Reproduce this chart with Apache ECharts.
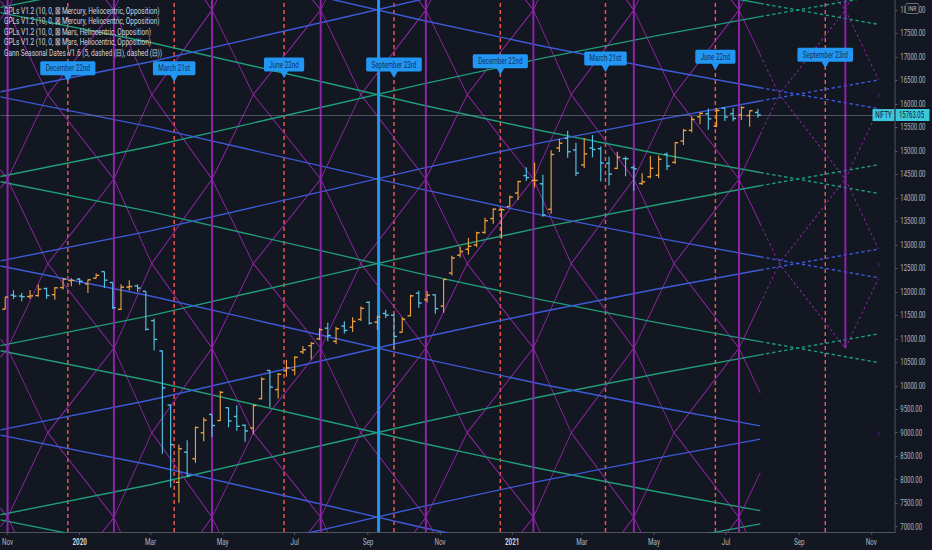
<!DOCTYPE html>
<html><head><meta charset="utf-8">
<script src="https://cdn.jsdelivr.net/npm/echarts@6/dist/echarts.min.js"></script>
<style>
html,body{margin:0;padding:0;background:#131722;overflow:hidden;width:932px;height:550px}
#wrap{width:1400px;height:550px;transform:scaleX(0.665714);transform-origin:0 0}
</style></head><body><div id="wrap"></div>
<script>
// ---------- DATA ----------
const weekDates = ['2019-10-30','2019-11-06','2019-11-13','2019-11-20','2019-11-27','2019-12-04','2019-12-11','2019-12-18','2019-12-25','2020-01-01','2020-01-08','2020-01-15','2020-01-22','2020-01-29','2020-02-05','2020-02-12','2020-02-19','2020-02-26','2020-03-04','2020-03-11','2020-03-18','2020-03-25','2020-04-01','2020-04-08','2020-04-15','2020-04-22','2020-04-29','2020-05-06','2020-05-13','2020-05-20','2020-05-27','2020-06-03','2020-06-10','2020-06-17','2020-06-24','2020-07-01','2020-07-08','2020-07-15','2020-07-22','2020-07-29','2020-08-05','2020-08-12','2020-08-19','2020-08-26','2020-09-02','2020-09-09','2020-09-16','2020-09-23','2020-09-30','2020-10-07','2020-10-14','2020-10-21','2020-10-28','2020-11-04','2020-11-11','2020-11-18','2020-11-25','2020-12-02','2020-12-09','2020-12-16','2020-12-23','2020-12-30','2021-01-06','2021-01-13','2021-01-20','2021-01-27','2021-02-03','2021-02-10','2021-02-17','2021-02-24','2021-03-03','2021-03-10','2021-03-17','2021-03-24','2021-03-31','2021-04-07','2021-04-14','2021-04-21','2021-04-28','2021-05-05','2021-05-12','2021-05-19','2021-05-26','2021-06-02','2021-06-09','2021-06-16','2021-06-23','2021-06-30','2021-07-07','2021-07-14','2021-07-21','2021-07-28'];
const opens = [11630,11930,11910,11900,11920,12070,11940,12090,12240,
12270,12170,12290,12430,12197,11627,12102,12125,12012,11387,10742,9587,7945,8585,8446,9000,9390,9260,9533,9346,9159,9100,9726,10326,9919,10318,10335,10723,10851,10999,11225,10947,11271,11248,11412,11777,11355,11540,11503,11140,11488,11973,11835,11937,11697,12399,12780,12906,13000,13265,13560,13742,13815,
14104,14474,14371,14300,13758,15064,15270,15020,14702,15064,15048,14737,14628,14837,14644,14306,14449,14481,14928,14756,15211,15437,15725,15791,15525,15915,15794,15766,15754,15819];
const highs = [11890,12034,11975,12038,12158,12090,12098,12294,12287,
12293,12260,12390,12430,12200,12160,12246,12160,12012,11433,10751,9602,8749,8838,9131,9324,9390,9889,9533,9584,9178,9598,10180,10328,10272,10553,10631,10847,10933,11225,11341,11257,11373,11460,11686,11794,11493,11618,11535,11463,11939,12025,12018,11943,12280,12770,12963,13145,13280,13579,13773,13778,14049,
14367,14653,14753,14491,15014,15257,15432,15176,15273,15336,15093,14878,14984,14879,14697,14527,14894,14900,14967,15189,15469,15733,15823,15901,15915,15915,15915,15952,15862,15890];
const lows = [11630,11850,11800,11850,11900,11850,11832,12050,12119,
12150,11975,12290,12087,11633,11614,12030,12003,11175,10750,8555,7832,7511,8055,8360,8820,8909,9250,9116,9043,8807,8968,9706,9544,9728,10194,10223,10676,10562,10973,10953,10883,11111,11144,11377,11303,11185,11442,10790,11140,11487,11661,11772,11535,11557,12350,12730,12790,12950,13238,13451,13131,13811,
13954,14357,14222,13596,13661,14977,14856,14468,14635,14862,14350,14264,14614,14459,14151,14273,14416,14416,14592,14725,15126,15400,15566,15450,15505,15635,15632,15660,15514,15705];
const closes = [11890,11908,11895,11914,12056,11922,12086,12271,12245,
12226,12256,12352,12248,11662,12098,12113,12080,11201,10989,9955,8745,8660,8084,9112,9267,9154,9860,9252,9137,9039,9580,10142,9972,10244,10383,10608,10768,10902,11194,11073,11214,11178,11371,11647,11333,11464,11505,11050,11417,11914,11762,11930,11642,12264,12720,12860,12969,13258,13514,13761,13749,14018,
14347,14433,14372,13634,14924,15163,14982,14529,14938,15031,14744,14507,14867,14834,14617,14341,14631,14823,14677,15175,15435,15670,15799,15683,15860,15722,15690,15924,15856,15763.05];

const currentPrice = 15763.05;
const lastBarDate = '2021-07-30';
const projectionEnd = '2021-11-07';
const projectionFloor = 10600;

// Mercury heliocentric GPL turning points (purple verticals) and mid crossings
const mercuryTurnDates = ['2019-08-03','2019-11-01','2020-01-30','2020-04-22','2020-07-23','2020-10-20','2021-01-19','2021-04-14','2021-07-12','2021-10-10','2022-01-07'];
const mercuryCrossDates = ['2019-09-06','2019-12-05','2020-03-02','2020-05-27','2020-08-26','2020-11-24','2021-02-20','2021-05-18','2021-08-15','2021-11-13'];
const mercuryLevels = [3600,7200,10800,14400,18000,21600];

// Mars heliocentric GPL: price shift along the lines
const marsDates = ['2019-10-26','2020-03-01','2020-08-03','2020-10-15','2021-01-25','2021-05-06','2021-07-30','2021-11-07'];
const marsShift = [0,638,1532,1957,2511,3011,3404,3851];
const greenFallStart = [3545,7145,10745,14345,17945,21545];
const greenRiseStart = [3655,7255,10855,14455,18055];
const blueFallStart = [5350,8950,12550,16150,19750];
const blueRiseStart = [5460,9060,12660,16260];

// Other vertical events
const marsEventDates = ['2020-09-10'];
const seasonDates = ['2019-12-22','2020-03-21','2020-06-22','2020-09-23','2020-12-22','2021-03-21','2021-06-22','2021-09-23'];
const seasonNames = ['December 22nd','March 21st','June 22nd','September 23rd','December 22nd','March 21st','June 22nd','September 23rd'];
const seasonLabelPrices = [16470,16470,16550,16550,16620,16680,16720,16760];
const markerPrices = [9000,12600,16200];

// Axes
const xMinDate = '2019-10-26', xMaxDate = '2021-11-21';
const yMin = 6887, yMax = 18213;
const xTickDates = ['2019-11-01','2020-01-01','2020-03-01','2020-05-01','2020-07-01','2020-09-01','2020-11-01','2021-01-01','2021-03-01','2021-05-01','2021-07-01','2021-09-01','2021-11-01'];
const yTickValues = [7000,7500,8000,8500,9000,9500,10000,10500,11000,11500,12000,12500,13000,13500,14000,14500,15000,15500,16000,16500,17000,17500,18000];
const legendLines = [
 'GPLs V1.2 (10, 0, \u22A0 Mercury, Heliocentric, Opposition)',
 'GPLs V1.2 (10, 0, \u22A0 Mercury, Heliocentric, Opposition)',
 'GPLs V1.2 (10, 0, \u22A0 Mars, Heliocentric, Opposition)',
 'GPLs V1.2 (10, 0, \u22A0 Mars, Heliocentric, Opposition)',
 'Gann Seasonal Dates V1.6 (5, dashed (\u229F), dashed (\u229F))'
];
const MONTHS = ['Jan','Feb','Mar','Apr','May','Jun','Jul','Aug','Sep','Oct','Nov','Dec'];

// ---------- HELPERS ----------
const ts = s => Date.parse(s + 'T00:00:00Z');
const FONT = 'Roboto, "Noto Sans", sans-serif';
const T_LAST = ts(lastBarDate), T_PROJ = ts(projectionEnd), X_MIN = ts(xMinDate), X_MAX = ts(xMaxDate);
function sub(pts, a, b) {
  const out = [];
  for (let i = 0; i < pts.length - 1; i++) {
    const [t0, v0] = pts[i], [t1, v1] = pts[i + 1];
    const s = Math.max(t0, a), e = Math.min(t1, b);
    if (s >= e) continue;
    const f = t => v0 + (v1 - v0) * (t - t0) / (t1 - t0);
    if (!out.length) out.push([s, f(s)]);
    out.push([e, f(e)]);
  }
  return out;
}
function valueAt(pts, t) {
  for (let i = 0; i < pts.length - 1; i++) {
    const [t0, v0] = pts[i], [t1, v1] = pts[i + 1];
    if (t >= t0 && t <= t1) return v0 + (v1 - v0) * (t - t0) / (t1 - t0);
  }
  return NaN;
}

// Mercury zigzags
const mercSolid = [], mercFuture = [];
for (let i = 0; i < mercuryTurnDates.length - 1; i++) {
  const a = ts(mercuryTurnDates[i]), c = ts(mercuryCrossDates[i]), b = ts(mercuryTurnDates[i + 1]);
  for (let k = 0; k < mercuryLevels.length - 1; k++) {
    const lo = mercuryLevels[k], hi = mercuryLevels[k + 1], mid = (lo + hi) / 2;
    const polys = [[[a, lo], [c, mid], [b, hi]], [[a, hi], [c, mid], [b, lo]]];
    polys.forEach(p => {
      const s = sub(p, X_MIN, T_LAST);
      if (s.length > 1) mercSolid.push({ coords: s });
      if (lo >= projectionFloor) {
        const f = sub(p, T_LAST, T_PROJ);
        if (f.length > 1) mercFuture.push({ coords: f });
      }
    });
  }
}
// Mars lines
function marsLines(starts, dir) {
  const solid = [], fut = [];
  starts.forEach(base => {
    const p = marsDates.map((d, j) => [ts(d), base + dir * marsShift[j]]);
    solid.push({ coords: sub(p, X_MIN, T_LAST) });
    if (valueAt(p, T_LAST) >= projectionFloor) fut.push({ coords: sub(p, T_LAST, T_PROJ) });
  });
  return { solid, fut };
}
const gF = marsLines(greenFallStart, -1), gR = marsLines(greenRiseStart, 1);
const bF = marsLines(blueFallStart, -1), bR = marsLines(blueRiseStart, 1);

// Verticals
const mercVert = [];
mercuryTurnDates.forEach(d => {
  const t = ts(d);
  if (t < X_MIN || t > X_MAX) return;
  if (t <= T_LAST) mercVert.push({ coords: [[t, yMin], [t, yMax]] });
  else {
    const floorLevel = mercuryLevels.find(l => l >= projectionFloor);
    mercVert.push({ coords: [[t, floorLevel], [t, yMax]] });
  }
});
const seasonVert = seasonDates.map(d => ({ coords: [[ts(d), yMin], [ts(d), yMax]] }));
const marsVert = marsEventDates.map(d => ({ coords: [[ts(d), yMin], [ts(d), yMax]] }));

const ohlc = weekDates.map((d, i) => [ts(d), opens[i], highs[i], lows[i], closes[i]]);

const GREEN = '#1f9e7a', BLUE = '#3d5bd9', PURPLE = '#9c27b0', UP = '#eda23f', DOWN = '#58c4e4';

function linesSeries(data, color, width, type, z) {
  return { type: 'lines', coordinateSystem: 'cartesian2d', polyline: true, clip: true, silent: true, z: z,
    lineStyle: { color: color, width: width, type: type, opacity: 1 }, data: data, animation: false };
}

// ---------- CHART ----------
const chart = echarts.init(document.getElementById('wrap'), null, { renderer: 'svg', width: 1400, height: 550 });
const option = {
  backgroundColor: '#131722',
  animation: false,
  grid: { left: 0, right: 55.6, top: 0, bottom: 18 },
  xAxis: {
    type: 'value', min: X_MIN, max: X_MAX,
    axisLine: { show: true, lineStyle: { color: '#5d606b', width: 1 } },
    axisTick: { show: true, customValues: xTickDates.map(ts), length: 3, lineStyle: { color: '#5d606b' } },
    axisLabel: { customValues: xTickDates.map(ts), color: '#b2b5be', fontSize: 9.5, fontFamily: FONT, margin: 5,
      formatter: v => { const d = new Date(v); const m = d.getUTCMonth(); return m === 0 ? '{y|' + d.getUTCFullYear() + '}' : MONTHS[m]; },
      rich: { y: { fontWeight: 'bold', color: '#d1d4dc', fontSize: 9.5, fontFamily: FONT } } },
    splitLine: { show: false }
  },
  yAxis: {
    type: 'value', position: 'right', min: yMin, max: yMax,
    axisLine: { show: true, lineStyle: { color: '#5d606b', width: 1 } },
    axisTick: { show: true, customValues: yTickValues, length: 4, lineStyle: { color: '#5d606b' } },
    axisLabel: { customValues: yTickValues, color: '#b2b5be', fontSize: 9, fontFamily: FONT, margin: 8,
      formatter: v => Number(v).toFixed(2) },
    splitLine: { show: false }
  },
  series: [
    linesSeries(seasonVert, '#ef5350', 2.2, [4, 3], 1),
    linesSeries(mercSolid, PURPLE, 1.1, 'solid', 2),
    linesSeries(mercFuture, PURPLE, 1.1, [3, 3], 2),
    linesSeries(gF.solid.concat(gR.solid), GREEN, 1.4, 'solid', 3),
    linesSeries(gF.fut.concat(gR.fut), GREEN, 1.4, [5, 4], 3),
    linesSeries(bF.solid.concat(bR.solid), BLUE, 1.4, 'solid', 3),
    linesSeries(bF.fut.concat(bR.fut), BLUE, 1.4, [5, 4], 3),
    linesSeries(mercVert, '#8e24aa', 3, 'solid', 4),
    linesSeries(marsVert, '#2196f3', 4.5, 'solid', 4),
    {
      type: 'custom', name: 'NIFTY', z: 6, animation: false,
      data: ohlc, encode: { x: 0, y: [1, 2, 3, 4] },
      renderItem: (params, api) => {
        const t = api.value(0), o = api.value(1), h = api.value(2), l = api.value(3), c = api.value(4);
        const pH = api.coord([t, h]), pL = api.coord([t, l]), pO = api.coord([t, o]), pC = api.coord([t, c]);
        const col = c >= o ? UP : DOWN, w = 4.5;
        return { type: 'group', children: [
          { type: 'line', shape: { x1: pH[0], y1: pH[1], x2: pL[0], y2: pL[1] }, style: { stroke: col, lineWidth: 1.7 } },
          { type: 'line', shape: { x1: pO[0] - w, y1: pO[1], x2: pO[0], y2: pO[1] }, style: { stroke: col, lineWidth: 1.4 } },
          { type: 'line', shape: { x1: pC[0], y1: pC[1], x2: pC[0] + w, y2: pC[1] }, style: { stroke: col, lineWidth: 1.4 } }
        ] };
      },
      markLine: { silent: true, symbol: 'none', label: { show: false },
        lineStyle: { color: 'rgba(140,143,154,0.6)', width: 1, type: 'solid' },
        data: [{ yAxis: currentPrice }] }
    },
    {
      type: 'scatter', z: 7, symbolSize: 1, itemStyle: { color: 'rgba(0,0,0,0)' },
      data: markerPrices.map(p => [T_PROJ, p]),
      label: { show: true, formatter: '\u203A', position: 'inside', color: PURPLE, fontSize: 12, fontFamily: FONT }
    },
    {
      type: 'custom', z: 10, animation: false,
      data: seasonDates.map((d, i) => [ts(d), seasonLabelPrices[i]]), encode: { x: 0, y: 1 },
      renderItem: (params, api) => {
        const p = api.coord([api.value(0), api.value(1)]);
        const name = seasonNames[params.dataIndex];
        return { type: 'group', children: [
          { type: 'polygon', shape: { points: [[p[0], p[1]], [p[0] - 6, p[1] - 7], [p[0] + 6, p[1] - 7]] }, style: { fill: '#2196f3' } },
          { type: 'text', x: p[0], y: p[1] - 6.5, style: { text: name, fill: '#15325a', backgroundColor: '#2196f3',
            padding: [2, 8, 2, 8], borderRadius: 2, fontSize: 9.5, fontFamily: FONT, align: 'center', verticalAlign: 'bottom' } }
        ] };
      }
    }
  ]
};
chart.setOption(option);

const yPix = chart.convertToPixel({ yAxisIndex: 0 }, currentPrice);
const axisX = 1400 - 55.6;
const graphics = legendLines.map((t, i) => ({ type: 'text', left: 6, top: 5 + i * 10.6, z: 100,
  style: { text: t, fill: '#d1d4dc', fontSize: 9.8, fontFamily: FONT } }));
graphics.push({ type: 'text', x: 1361, y: 4, z: 100,
  style: { text: 'INR', fill: '#b2b5be', fontSize: 8, fontFamily: FONT, backgroundColor: '#131722',
    borderColor: '#6a6d78', borderWidth: 1, borderRadius: 2, padding: [1, 3, 0, 3] } });
graphics.push({ type: 'text', x: axisX - 1, y: yPix, z: 100,
  style: { text: 'NIFTY', fill: '#131722', fontSize: 9, fontFamily: FONT, backgroundColor: '#3cc8dc',
    padding: [2, 4, 1, 4], align: 'right', verticalAlign: 'middle' } });
graphics.push({ type: 'text', x: axisX + 1, y: yPix, z: 100,
  style: { text: currentPrice.toFixed(2), fill: '#131722', fontSize: 9, fontFamily: FONT, backgroundColor: '#3cc8dc',
    padding: [2, 8, 1, 5], align: 'left', verticalAlign: 'middle' } });
chart.setOption({ graphic: graphics });
</script></body></html>
